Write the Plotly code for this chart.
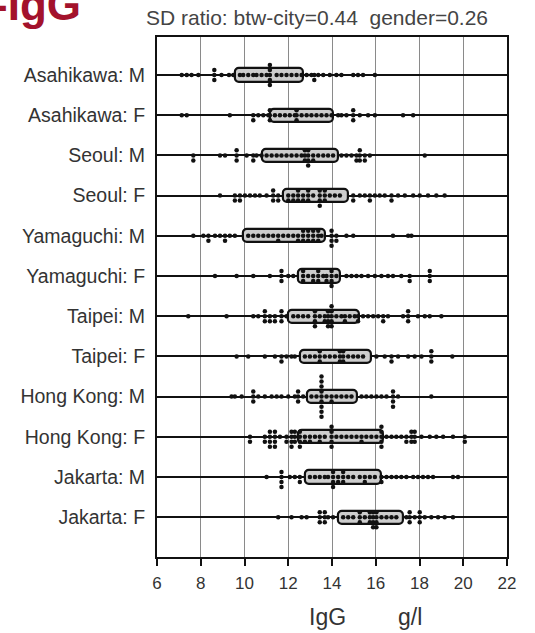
import plotly.graph_objects as go
from collections import Counter

labels = ["Asahikawa: M", "Asahikawa: F", "Seoul: M", "Seoul: F",
          "Yamaguchi: M", "Yamaguchi: F", "Taipei: M", "Taipei: F",
          "Hong Kong: M", "Hong Kong: F", "Jakarta: M", "Jakarta: F"]

box_lo = [9.56, 11.16, 10.78, 11.77, 9.94, 12.45, 12.0, 12.53, 12.84, 12.45, 12.76, 14.28]
box_hi = [12.68, 14.05, 14.28, 14.74, 13.67, 14.36, 15.23, 15.77, 15.12, 16.31, 16.23, 17.25]

asahikawa_m = [7.13, 7.36, 7.58, 7.89, 8.62, 8.62, 8.62, 8.95, 9.29, 9.49, 9.79, 9.94,
               10.17, 10.4, 10.55, 10.78, 11.01, 11.16, 11.16, 11.16, 11.16, 11.16, 11.47,
               11.69, 11.92, 12.15, 12.38, 12.61, 12.84, 13.06, 13.19, 13.19, 13.37, 13.6,
               13.9, 14.2, 14.43, 14.97, 15.19, 15.42, 15.96]
asahikawa_f = [7.13, 7.36, 9.33, 10.4, 10.4, 10.63, 10.86, 11.09, 11.16, 11.16, 11.16,
               11.39, 11.62, 11.85, 12.07, 12.3, 12.38, 12.38, 12.38, 12.61, 12.84, 13.06,
               13.29, 13.52, 13.75, 13.98, 14.28, 14.43, 14.66, 14.97, 14.97, 14.97, 15.27,
               15.65, 15.96, 17.25, 17.71]
seoul_m = [7.66, 7.66, 8.88, 9.11, 9.64, 9.64, 9.64, 10.1, 10.4, 10.4, 10.55, 10.78,
           11.01, 11.24, 11.47, 11.69, 11.92, 12.15, 12.38, 12.61, 12.76, 12.76, 12.76,
           12.91, 12.91, 12.91, 12.91, 13.14, 13.14, 13.37, 13.6, 13.82, 14.05, 14.43,
           14.66, 14.89, 15.12, 15.12, 15.27, 15.27, 15.27, 15.5, 15.5, 15.73, 18.24]
seoul_f = [8.88, 9.56, 9.56, 9.79, 9.79, 10.02, 10.25, 10.48, 10.7, 11.01, 11.31, 11.31,
           11.31, 11.54, 11.54, 12.0, 12.0, 12.23, 12.23, 12.45, 12.45, 12.45, 12.68, 12.68,
           12.91, 12.91, 12.91, 13.14, 13.44, 13.44, 13.44, 13.44, 13.67, 13.67, 13.67,
           13.9, 14.13, 14.36, 14.97, 14.97, 15.27, 15.5, 15.73, 15.73, 15.96, 16.18, 16.41,
           16.72, 16.72, 17.02, 17.33, 17.71, 18.01, 18.39, 18.77, 19.15]
yamaguchi_m = [7.66, 8.12, 8.35, 8.35, 8.65, 8.88, 9.11, 9.11, 9.33, 9.56, 10.17, 10.4,
               10.63, 10.86, 11.09, 11.31, 11.54, 11.54, 11.77, 12.0, 12.23, 12.45, 12.45,
               12.68, 12.68, 12.68, 12.91, 12.91, 12.91, 13.14, 13.14, 13.14, 13.37, 13.37,
               13.37, 13.52, 13.98, 13.98, 13.98, 13.98, 14.2, 14.2, 14.66, 14.97, 16.79,
               17.48, 17.63]
yamaguchi_f = [8.65, 9.64, 10.4, 11.16, 11.69, 11.69, 11.69, 12.0, 12.23, 12.68, 12.68,
               12.68, 12.91, 13.14, 13.14, 13.37, 13.37, 13.37, 13.6, 13.75, 13.75, 13.98,
               13.98, 13.98, 13.98, 14.2, 14.66, 14.89, 15.12, 15.35, 15.65, 15.96, 16.26,
               16.56, 16.79, 17.17, 17.55, 17.55, 18.47, 18.47, 18.47]
taipei_m = [7.43, 9.18, 10.4, 10.63, 10.93, 10.93, 10.93, 11.16, 11.16, 11.39, 11.39,
            11.69, 11.69, 11.69, 11.92, 12.23, 12.45, 12.68, 12.91, 13.22, 13.22, 13.22,
            13.22, 13.44, 13.67, 13.67, 13.82, 13.82, 13.82, 13.82, 13.98, 13.98, 13.98,
            13.98, 13.98, 14.2, 14.43, 14.59, 14.59, 14.81, 15.04, 15.19, 15.19, 15.42,
            15.65, 15.88, 16.11, 16.34, 16.34, 16.56, 17.25, 17.48, 17.48, 17.48, 17.93,
            18.24, 18.47, 19.0]
taipei_f = [9.64, 10.17, 10.93, 11.39, 11.69, 11.69, 11.92, 12.15, 12.3, 12.76, 12.99,
            13.22, 13.44, 13.44, 13.44, 13.67, 13.9, 14.13, 14.36, 14.36, 14.36, 14.51,
            14.51, 14.51, 14.74, 14.97, 15.19, 15.42, 16.03, 16.41, 16.72, 16.72, 17.02,
            17.48, 17.78, 18.09, 18.54, 18.54, 18.54, 19.5]
hongkong_m = [9.41, 9.56, 9.87, 10.4, 10.4, 10.4, 10.63, 10.93, 11.24, 11.47, 11.69, 12.0,
              12.3, 12.45, 12.45, 12.45, 12.68, 13.06, 13.29, 13.52, 13.52, 13.52, 13.52,
              13.52, 13.52, 13.52, 13.52, 13.52, 13.75, 13.98, 13.98, 14.2, 14.43, 14.66,
              14.89, 15.35, 15.57, 15.8, 16.03, 16.26, 16.49, 16.79, 16.79, 16.79, 16.79,
              17.02, 18.54]
hongkong_f = [10.25, 10.25, 10.93, 10.93, 11.16, 11.16, 11.16, 11.16, 11.39, 11.39, 11.39,
              11.39, 11.62, 11.92, 11.92, 12.15, 12.15, 12.15, 12.15, 12.3, 12.3, 12.3,
              12.53, 12.53, 12.53, 12.53, 12.76, 12.76, 12.99, 12.99, 13.22, 13.44, 13.44,
              13.67, 13.98, 13.98, 13.98, 13.98, 13.98, 14.2, 14.43, 14.66, 14.89, 15.12,
              15.35, 15.35, 15.57, 15.8, 16.03, 16.26, 16.26, 16.26, 16.26, 16.26, 16.49,
              16.72, 16.94, 17.17, 17.4, 17.4, 17.63, 17.63, 17.63, 17.78, 17.78, 17.78,
              18.09, 18.47, 18.77, 19.08, 19.53, 20.07, 20.07]
jakarta_m = [11.01, 11.69, 11.69, 11.69, 11.69, 12.07, 12.3, 12.53, 12.53, 12.99, 13.22,
             13.44, 13.67, 13.82, 14.05, 14.05, 14.05, 14.05, 14.28, 14.28, 14.51, 14.51,
             14.51, 14.74, 14.97, 15.27, 15.5, 15.5, 15.73, 15.96, 16.26, 16.26, 16.49,
             16.72, 16.94, 17.17, 17.4, 17.71, 17.93, 18.16, 18.39, 18.62, 19.53, 19.76]
jakarta_f = [11.54, 12.15, 12.61, 12.84, 13.44, 13.44, 13.44, 13.67, 13.67, 13.67, 13.82,
             14.05, 14.51, 14.74, 14.97, 15.27, 15.27, 15.27, 15.5, 15.73, 15.73, 15.73,
             15.88, 15.88, 15.88, 15.88, 16.03, 16.03, 16.03, 16.03, 16.26, 16.49, 16.72,
             16.94, 17.4, 17.55, 17.55, 17.55, 17.78, 18.01, 18.01, 18.01, 18.24, 18.54,
             18.85, 19.15, 19.53]

rows = [asahikawa_m, asahikawa_f, seoul_m, seoul_f, yamaguchi_m, yamaguchi_f,
        taipei_m, taipei_f, hongkong_m, hongkong_f, jakarta_m, jakarta_f]

x_ticks = [6, 8, 10, 12, 14, 16, 18, 20, 22]

# dot-plot stacking of equal values around each row line
step = 0.125
dot_x, dot_y = [], []
for i, vals in enumerate(rows):
    cnt = Counter()
    for v in vals:
        k = cnt[v]
        cnt[v] += 1
        n = (k + 1) // 2
        sign = 1 if k % 2 else -1
        dot_x.append(v)
        dot_y.append(i + sign * n * step)

font_family = "Liberation Sans, Arial, sans-serif"

fig = go.Figure()
fig.add_trace(go.Bar(
    y=list(range(len(labels))),
    x=[h - l for l, h in zip(box_lo, box_hi)],
    base=box_lo,
    orientation="h",
    width=0.33,
    marker=dict(color="#cdcdcd", line=dict(color="#111111", width=2.2), cornerradius=4),
    hoverinfo="skip",
    showlegend=False,
))
fig.add_trace(go.Scatter(
    x=dot_x, y=dot_y, mode="markers",
    marker=dict(symbol="circle", size=4.5, color="#111111", line=dict(width=0)),
    showlegend=False,
))

fig.update_layout(
    width=535, height=633,
    margin=dict(l=157, r=28, t=37, b=76, autoexpand=False),
    paper_bgcolor="white", plot_bgcolor="white",
    font=dict(family=font_family, color="#333333"),
    bargap=0,
)
fig.update_xaxes(
    range=[6, 22], tickvals=x_ticks, ticktext=[str(t) for t in x_ticks],
    showgrid=True, gridcolor="#8a8a8a", gridwidth=1,
    showline=True, linecolor="#111111", linewidth=2, mirror=True,
    ticks="outside", ticklen=7, tickwidth=2, tickcolor="#111111",
    tickfont=dict(size=17, color="#333333"), ticklabelstandoff=3,
    zeroline=False,
)
fig.update_yaxes(
    range=[11.99, -0.945], tickvals=list(range(len(labels))), ticktext=labels,
    showgrid=True, gridcolor="#111111", gridwidth=2,
    showline=True, linecolor="#111111", linewidth=2, mirror=True,
    ticks="", tickfont=dict(size=19.5, color="#333333"), ticklabelstandoff=6,
    zeroline=False,
)

fig.add_annotation(text="-IgG", xref="paper", yref="paper",
                   x=(-9 - 157) / 350, y=(633 - 76 - 20) / 520, xanchor="left", yanchor="bottom",
                   yshift=-11, showarrow=False,
                   font=dict(family=font_family, size=44, color="#A3122C", weight="bold"))
fig.add_annotation(text="SD ratio: btw-city=0.44  gender=0.26", xref="paper", yref="paper",
                   x=(317 - 157) / 350, y=(633 - 76 - 18) / 520, xanchor="center", yanchor="middle",
                   showarrow=False, font=dict(family=font_family, size=21, color="#444444"))
fig.add_annotation(text="IgG", xref="paper", yref="paper",
                   x=(327 - 157) / 350, y=(633 - 76 - 617) / 520, xanchor="center", yanchor="middle",
                   showarrow=False, font=dict(family=font_family, size=23, color="#333333"))
fig.add_annotation(text="g/l", xref="paper", yref="paper",
                   x=(410 - 157) / 350, y=(633 - 76 - 617) / 520, xanchor="center", yanchor="middle",
                   showarrow=False, font=dict(family=font_family, size=23, color="#333333"))

fig.write_html("out.html")
